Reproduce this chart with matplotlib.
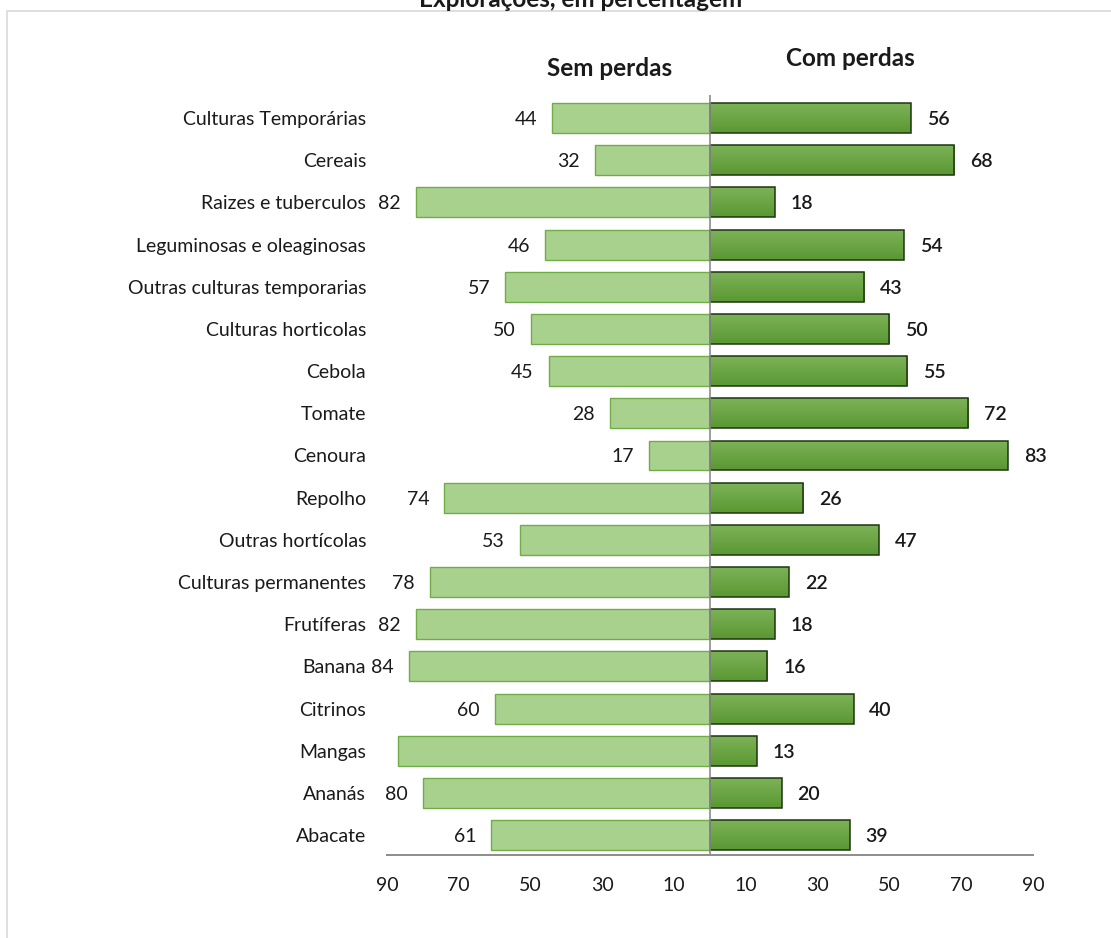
import numpy as np
import matplotlib.pyplot as plt
from matplotlib.patches import Rectangle
from matplotlib.colors import LinearSegmentedColormap

plt.rcParams['font.family'] = ['Lato', 'DejaVu Sans']

categories = [
    'Culturas Temporárias', 'Cereais', 'Raizes e tuberculos', 'Leguminosas e oleaginosas',
    'Outras culturas temporarias', 'Culturas horticolas', 'Cebola', 'Tomate', 'Cenoura',
    'Repolho', 'Outras hortícolas', 'Culturas permanentes', 'Frutíferas', 'Banana',
    'Citrinos', 'Mangas', 'Ananás', 'Abacate',
]
sem_perdas = [44, 32, 82, 46, 57, 50, 45, 28, 17, 74, 53, 78, 82, 84, 60, 87, 80, 61]
com_perdas = [56, 68, 18, 54, 43, 50, 55, 72, 83, 26, 47, 22, 18, 16, 40, 13, 20, 39]
hidden_labels = ['Mangas']  # the reference shows no value for this bar
tick_values = [-90, -70, -50, -30, -10, 10, 30, 50, 70, 90]

light_green = '#a9d18e'
light_edge = '#70ad47'
dark_edge = '#1e3510'
grad = LinearSegmentedColormap.from_list('g', ['#7cb257', '#5a9833'])

fig = plt.figure(figsize=(11.11, 9.38), dpi=100)
ax = fig.add_axes([387 / 1111, 1 - 855 / 938, 646 / 1111, 760 / 938])

y = np.arange(len(categories))
h = 0.71

ax.barh(y, [-v for v in sem_perdas], height=h, color=light_green,
        edgecolor=light_edge, linewidth=1, zorder=2)

bars = ax.barh(y, com_perdas, height=h, color='#66a33c', linewidth=0, zorder=2)
g = np.linspace(0, 1, 64).reshape(-1, 1)
for bar, yi, v in zip(bars, y, com_perdas):
    im = ax.imshow(g, cmap=grad, aspect='auto', origin='lower',
                   extent=(0, v, yi - h / 2, yi + h / 2), zorder=2.1)
    im.set_clip_path(bar)
ax.barh(y, com_perdas, height=h, fill=False, edgecolor=dark_edge, linewidth=1.1, zorder=3)

for yi, name, l, r in zip(y, categories, sem_perdas, com_perdas):
    if name not in hidden_labels:
        ax.text(-l - 4.2, yi, str(l), ha='right', va='center_baseline', fontsize=14,
                color='#1a1a1a')
    ax.text(r + 4.4, yi, str(r), ha='left', va='center_baseline', fontsize=14,
            fontweight='semibold', color='#1a1a1a')

ax.axvline(0, color='#8c8c8c', linewidth=1.2, zorder=4)

ax.set_xlim(-90, 90)
ax.set_ylim(len(categories) - 1 + 0.47, -0.545)
ax.set_xticks(tick_values)
ax.set_xticklabels([str(abs(t)) for t in tick_values])
ax.set_yticks(y)
ax.set_yticklabels(categories)
ax.tick_params(axis='x', length=0, pad=16, labelsize=14, colors='#1a1a1a')
ax.tick_params(axis='y', length=0, pad=15, labelsize=14, colors='#1a1a1a')
for side in ['top', 'right', 'left']:
    ax.spines[side].set_visible(False)
ax.spines['bottom'].set_color('#8c8c8c')
ax.spines['bottom'].set_linewidth(1.4)

fig.text(610 / 1111, 1 - 69 / 938, 'Sem perdas', ha='center', va='center',
         fontsize=17.5, fontweight='bold', color='#1a1a1a')
fig.text(850 / 1111, 1 - 59 / 938, 'Com perdas', ha='center', va='center',
         fontsize=17.5, fontweight='bold', color='#1a1a1a')

# title is cut off by the top of the image in the reference
fig.text(581 / 1111, 1 - 7 / 938, 'Explorações, em percentagem', ha='center',
         va='baseline', fontsize=17.5, fontweight='bold', color='#1a1a1a')

fig.add_artist(Rectangle((7 / 1111, -0.05), 1.1, 1.05 - 11 / 938, transform=fig.transFigure,
                         fill=False, edgecolor='#d9d9d9', linewidth=1.2))

fig.savefig('out.png', dpi=100)
